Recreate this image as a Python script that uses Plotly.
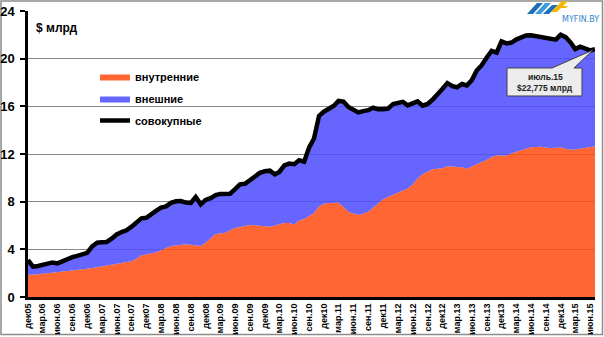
import pandas as pd
import plotly.graph_objects as go

# Monthly debt, $ bn, Dec 2005 - Jul 2015
months = pd.date_range("2005-12-01", periods=116, freq="MS")

domestic = [
    1.85, 1.87, 1.90, 1.95, 2.00, 2.04, 2.10, 2.18, 2.20, 2.22, 2.26, 2.30,
    2.38, 2.44, 2.50, 2.57, 2.63, 2.70, 2.78, 2.85, 2.93, 3.00, 3.20, 3.50,
    3.57, 3.63, 3.75, 3.93, 4.10, 4.28, 4.33, 4.38, 4.43, 4.38, 4.30, 4.28,
    4.55, 4.95, 5.28, 5.33, 5.40, 5.60, 5.78, 5.88, 5.96, 6.04, 6.02, 5.97,
    5.94, 5.90, 6.00, 6.10, 6.22, 6.20, 6.08, 6.42, 6.55, 6.80, 7.05, 7.60,
    7.83, 7.88, 7.90, 7.90, 7.55, 7.15, 7.00, 6.88, 7.00, 7.16, 7.50, 7.85,
    8.20, 8.40, 8.58, 8.72, 8.88, 9.10, 9.45, 9.95, 10.30, 10.55, 10.72, 10.77,
    10.80, 10.98, 10.95, 10.92, 10.88, 10.76, 10.95, 11.20, 11.33, 11.50, 11.75, 11.88,
    11.90, 11.88, 12.05, 12.20, 12.32, 12.45, 12.56, 12.58, 12.60, 12.55, 12.50, 12.52,
    12.55, 12.45, 12.35, 12.38, 12.45, 12.52, 12.60, 12.66,
]

total = [
    3.10, 2.55, 2.60, 2.68, 2.75, 2.90, 2.82, 3.00, 3.20, 3.35, 3.45, 3.55,
    3.70, 4.25, 4.55, 4.60, 4.62, 4.90, 5.25, 5.45, 5.60, 5.90, 6.30, 6.60,
    6.65, 6.90, 7.25, 7.50, 7.60, 7.90, 8.03, 8.05, 7.92, 7.90, 8.40, 7.78,
    8.15, 8.30, 8.55, 8.65, 8.67, 8.67, 9.05, 9.45, 9.50, 9.80, 10.20, 10.42,
    10.55, 10.60, 10.30, 10.50, 11.05, 11.20, 11.15, 11.48, 11.35, 12.55, 13.30, 15.20,
    15.55, 15.80, 16.05, 16.45, 16.40, 15.95, 15.70, 15.49, 15.60, 15.68, 15.88, 15.75,
    15.75, 15.80, 16.20, 16.30, 16.38, 16.08, 16.25, 16.42, 16.05, 16.20, 16.55, 16.95,
    17.45, 17.95, 17.70, 17.60, 17.87, 17.75, 18.20, 19.00, 19.45, 20.10, 20.65, 20.50,
    21.45, 21.28, 21.35, 21.60, 21.80, 21.95, 21.96, 21.90, 21.78, 21.72, 21.68, 21.60,
    22.00, 21.80, 21.35, 20.80, 21.00, 20.86, 20.70, 20.80,
]

tick_dates = pd.date_range("2005-12-01", "2015-06-01", freq="3MS")
tick_labels = [
    "дек05", "мар.06", "июн.06", "сен.06",
    "дек06", "мар.07", "июн.07", "сен.07",
    "дек07", "мар.08", "июн.08", "сен.08",
    "дек08", "мар.09", "июн.09", "сен.09",
    "дек09", "мар.10", "июн.10", "сен.10",
    "дек10", "мар.11", "июн.11", "сен.11",
    "дек11", "мар.12", "июн.12", "сен.12",
    "дек12", "мар.13", "июн.13", "сен.13",
    "дек13", "мар.14", "июн.14", "сен.14",
    "дек14", "мар.15", "июн.15",
]

series_names = ["внутренние", "внешние", "совокупные"]
callout_lines = ["июль.15", "$22,775 млрд"]

W, H = 604, 337
L, R, T, B = 28, 9, 11, 40
PW, PH = W - L - R, H - T - B


def px(x):
    return (x - L) / PW


def py(y):
    return (H - B - y) / PH


FONT = "Liberation Sans"

fig = go.Figure()
fig.add_trace(go.Scatter(
    x=months, y=domestic, name=series_names[0], mode="lines",
    line=dict(width=0, color="rgba(255,75,15,0.85)"),
    fill="tozeroy", fillcolor="rgba(255,75,15,0.85)",
    legendgroup="a",
))
fig.add_trace(go.Scatter(
    x=months, y=total, name=series_names[1], mode="lines",
    line=dict(width=0, color="rgba(75,75,255,0.85)"),
    fill="tonexty", fillcolor="rgba(75,75,255,0.85)",
    legendgroup="b",
))
fig.add_trace(go.Scatter(
    x=months, y=total, name=series_names[2], mode="lines",
    line=dict(width=4.5, color="black"),
    legendgroup="c",
))

shapes = []
# outer chart frame
shapes.append(dict(type="rect", xref="paper", yref="paper",
                   x0=px(1), x1=px(602.5), y0=py(334.5), y1=py(1),
                   line=dict(color="#8c8c8c", width=1.5), layer="below"))

# callout box with tail pointing at the last point
bx0, bx1, by0, by1 = 507, 582, 68, 96
path_pts = [(bx0, by0), (552, by0), (593, 50), (574, by0), (bx1, by0),
            (bx1, by1), (bx0, by1)]
path = "M " + " L ".join(f"{px(a):.5f},{py(b):.5f}" for a, b in path_pts) + " Z"
shapes.append(dict(type="path", xref="paper", yref="paper", path=path,
                   fillcolor="#ececec", line=dict(color="#404040", width=1),
                   layer="above"))

# logo marks
def poly(pts, color):
    p = "M " + " L ".join(f"{px(a):.5f},{py(b):.5f}" for a, b in pts) + " Z"
    return dict(type="path", xref="paper", yref="paper", path=p,
                fillcolor=color, line=dict(width=0), layer="above")

shapes.append(poly([(527, 14), (533, 14), (543, 3), (537, 3)], "#1f6fb5"))
shapes.append(poly([(535, 14), (541, 14), (551, 3), (545, 3)], "#3b9be0"))
shapes.append(poly([(543, 14), (549, 14), (558, 5), (552, 5)], "#1f6fb5"))
shapes.append(poly([(551, 12), (557, 12), (568, 1), (562, 1)], "#f2b705"))
shapes.append(poly([(558, 8), (566, 8), (568, 6), (560, 6)], "#f2b705"))

annotations = [
    dict(text="<b>$ млрд</b>", xref="paper", yref="paper",
         x=px(34), y=py(28), xanchor="left", yanchor="middle",
         showarrow=False, font=dict(family=FONT, size=12, color="black")),
    dict(text="<b>" + callout_lines[0] + "</b>", xref="paper", yref="paper",
         x=px(545), y=py(77), xanchor="center", yanchor="middle",
         showarrow=False, font=dict(family=FONT, size=8.5, color="#222")),
    dict(text="<b>" + callout_lines[1] + "</b>", xref="paper", yref="paper",
         x=px(545), y=py(88.5), xanchor="center", yanchor="middle",
         showarrow=False, font=dict(family=FONT, size=8.5, color="#222")),
    dict(text="MYFIN.BY", xref="paper", yref="paper",
         x=px(580), y=py(19), xanchor="center", yanchor="middle",
         showarrow=False, font=dict(family="DejaVu Sans", size=8, color="#2f86c8")),
]

fig.update_layout(
    width=W, height=H,
    margin=dict(l=L, r=R, t=T, b=B, pad=0, autoexpand=False),
    paper_bgcolor="white", plot_bgcolor="white",
    shapes=shapes, annotations=annotations,
    showlegend=True,
    legend=dict(x=px(95), y=py(62), xanchor="left", yanchor="top",
                bgcolor="rgba(0,0,0,0)", tracegroupgap=3, itemwidth=30,
                traceorder="grouped",
                font=dict(family=FONT, size=11, color="black", weight="bold")),
    xaxis=dict(
        type="date", range=[months[0], months[-1]], automargin=False,
        tickmode="array", tickvals=list(tick_dates), ticktext=tick_labels,
        tickangle=-90, showgrid=False, zeroline=False,
        showline=True, linecolor="black", linewidth=3,
        ticks="", tickfont=dict(family=FONT, size=9, color="black", weight="bold"),
    ),
    yaxis=dict(
        range=[0, 24], dtick=4, tick0=0, automargin=False,
        showgrid=True, gridcolor="#8a8a8a", gridwidth=1, zeroline=False,
        showline=True, linecolor="black", linewidth=2.5,
        ticks="outside", ticklen=5, tickwidth=2, tickcolor="black",
        ticklabelstandoff=3,
        tickfont=dict(family=FONT, size=13, color="black", weight="bold"),
    ),
)

fig.write_html("out.html")
